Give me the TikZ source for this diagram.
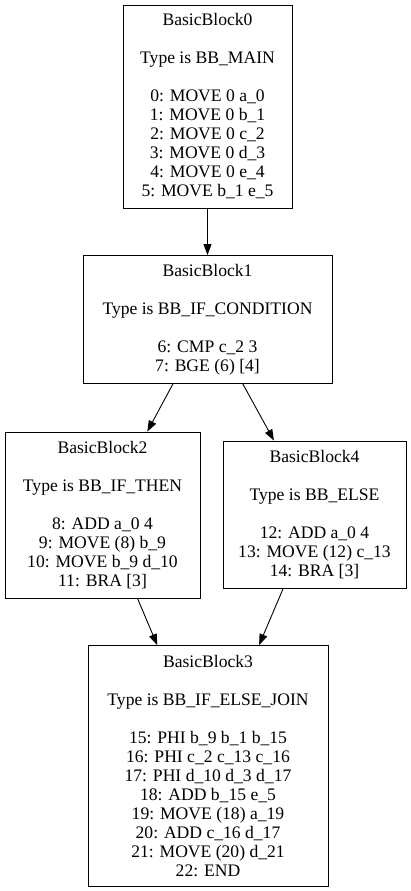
\documentclass[tikz,border=0pt]{standalone}
\usepackage{fontspec}
\setmainfont{Liberation Serif}
\usetikzlibrary{arrows.meta}
\begin{document}
\begin{tikzpicture}[x=1pt,y=-1pt,
  bb/.style={draw=black,line width=0.9pt,rectangle,align=center,inner sep=0pt,
    font=\fontsize{17.6}{19}\selectfont},
  edge/.style={draw=black,line width=0.9pt,-{Triangle[length=11pt,width=8pt]}}]
\useasboundingbox (0,0) rectangle (411,891);
\node[bb,minimum width=169pt,minimum height=203pt] (b0) at (207.5,106.5)
  {BasicBlock0\\[19pt]Type is BB\_MAIN\\[19pt]0: MOVE 0 a\_0\\1: MOVE 0 b\_1\\2: MOVE 0 c\_2\\3: MOVE 0 d\_3\\4: MOVE 0 e\_4\\5: MOVE b\_1 e\_5};
\node[bb,minimum width=249pt,minimum height=128pt] (b1) at (207.5,319.5)
  {BasicBlock1\\[19pt]Type is BB\_IF\_CONDITION\\[19pt]6: CMP c\_2 3\\7: BGE (6) [4]};
\node[bb,minimum width=195pt,minimum height=166pt] (b2) at (102.5,515)
  {BasicBlock2\\[19pt]Type is BB\_IF\_THEN\\[19pt]8: ADD a\_0 4\\9: MOVE (8) b\_9\\10: MOVE b\_9 d\_10\\11: BRA [3]};
\node[bb,minimum width=183pt,minimum height=147pt] (b4) at (314.5,514.5)
  {BasicBlock4\\[19pt]Type is BB\_ELSE\\[19pt]12: ADD a\_0 4\\13: MOVE (12) c\_13\\14: BRA [3]};
\node[bb,minimum width=240pt,minimum height=241pt] (b3) at (208,766)
  {BasicBlock3\\[19pt]Type is BB\_IF\_ELSE\_JOIN\\[19pt]15: PHI b\_9 b\_1 b\_15\\16: PHI c\_2 c\_13 c\_16\\17: PHI d\_10 d\_3 d\_17\\18: ADD b\_15 e\_5\\19: MOVE (18) a\_19\\20: ADD c\_16 d\_17\\21: MOVE (20) d\_21\\22: END};
\draw[edge] (b0) -- (b1);
\draw[edge] (b1) -- (b2);
\draw[edge] (b1) -- (b4);
\draw[edge] (b2) -- (b3);
\draw[edge] (b4) -- (b3);
\end{tikzpicture}
\end{document}
